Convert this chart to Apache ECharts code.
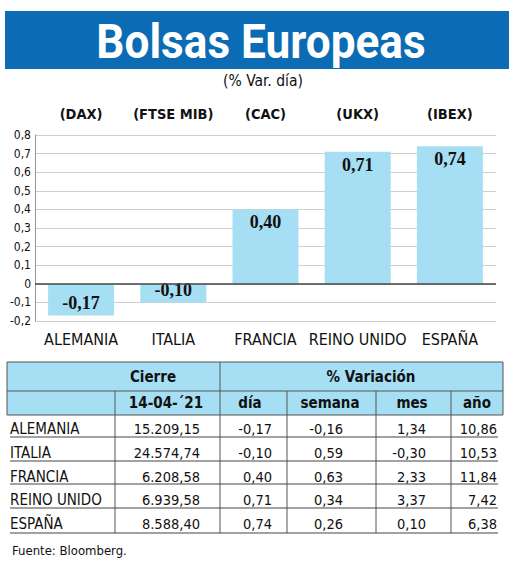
<!DOCTYPE html>
<html>
<head>
<meta charset="utf-8">
<script src="https://cdn.jsdelivr.net/npm/echarts@6/dist/echarts.min.js"></script>
<style>
html,body{margin:0;padding:0;background:#fff;}
#c{width:520px;height:562px;}
</style>
</head>
<body>
<div id="c"></div>
<script>
// ---- data ----
const countries = ['ALEMANIA', 'ITALIA', 'FRANCIA', 'REINO UNIDO', 'ESPAÑA'];
const indices = ['(DAX)', '(FTSE MIB)', '(CAC)', '(UKX)', '(IBEX)'];
const dayChange = [-0.17, -0.10, 0.40, 0.71, 0.74];
const closeValues = ['15.209,15', '24.574,74', '6.208,58', '6.939,58', '8.588,40'];
const weekChange = [-0.16, 0.59, 0.63, 0.34, 0.26];
const monthChange = [1.34, -0.30, 2.33, 3.37, 0.10];
const yearChange = [10.86, 10.53, 11.84, 7.42, 6.38];
const closeDate = '14-04-´21';
const tableHeaders = ['día', 'semana', 'mes', 'año'];
const yMin = -0.2, yMax = 0.8, yStep = 0.1;

// ---- styles ----
const NARROW = '"DejaVu Sans Condensed", Roboto, sans-serif';
const SERIF = '"Liberation Serif", "DejaVu Serif", serif';
const BAR = '#a6def4';
const fmt2 = v => v.toFixed(2).replace('.', ',');

const chart = echarts.init(document.getElementById('c'), null, {renderer: 'svg'});

const g = [];
g.push({type: 'rect', z: 0, shape: {x: 5, y: 11, width: 504, height: 58}, style: {fill: '#0b6cb5'}});
g.push({type: 'text', z: 5, x: 261, y: 41, scaleX: 0.92,
  style: {text: 'Bolsas Europeas', fill: '#fff', font: 'bold 48px Roboto, sans-serif', align: 'center', verticalAlign: 'middle'}});
g.push({type: 'text', x: 263, y: 81,
  style: {text: '(% Var. día)', fill: '#111', font: '15.5px ' + NARROW, align: 'center', verticalAlign: 'middle'}});

// table
const T = {x0: 7, x1: 503, yH0: 362, yH1: 391, yH2: 415};
const vcols = [115, 220, 287, 376, 451];
g.push({type: 'rect', shape: {x: T.x0, y: T.yH0, width: T.x1 - T.x0, height: T.yH2 - T.yH0},
        style: {fill: BAR, stroke: '#555', lineWidth: 1}});
g.push({type: 'line', shape: {x1: T.x0, y1: T.yH1, x2: T.x1, y2: T.yH1}, style: {stroke: '#555', lineWidth: 1}});
g.push({type: 'line', shape: {x1: 220, y1: T.yH0, x2: 220, y2: T.yH1}, style: {stroke: '#555', lineWidth: 1}});
vcols.forEach(x => g.push({type: 'line', shape: {x1: x, y1: T.yH1, x2: x, y2: 533}, style: {stroke: '#555', lineWidth: 1}}));
const hdr = (text, x, y) => g.push({type: 'text', x: x, y: y,
  style: {text: text, fill: '#111', font: 'bold 15px ' + NARROW, align: 'center', verticalAlign: 'middle'}});
hdr('Cierre', 153, 377);
hdr('% Variación', 371, 377);
hdr(closeDate, 166, 403);
[250, 330, 412, 477].forEach((x, i) => hdr(tableHeaders[i], x, 403));
const rowY = [429, 453, 477, 500, 524];
const lineY = [437, 461, 484, 508, 533];
const cell = (text, x, y, align, size) => g.push({type: 'text', x: x, y: y,
  style: {text: text, fill: '#111', font: size + 'px ' + NARROW, align: align, verticalAlign: 'middle'}});
countries.forEach((c, i) => {
  const y = rowY[i];
  cell(c, 10, y, 'left', 15);
  cell(closeValues[i], 200, y, 'right', 14.5);
  cell(fmt2(dayChange[i]), 272, y, 'right', 14.5);
  cell(fmt2(weekChange[i]), 343, y, 'right', 14.5);
  cell(fmt2(monthChange[i]), 426, y, 'right', 14.5);
  cell(fmt2(yearChange[i]), 497, y, 'right', 14.5);
  g.push({type: 'line', shape: {x1: 10, y1: lineY[i], x2: 498, y2: lineY[i]}, style: {stroke: '#444', lineWidth: 1}});
});
g.push({type: 'text', x: 12, y: 550, style: {text: 'Fuente: Bloomberg.', fill: '#111', font: '13px ' + NARROW, align: 'left', verticalAlign: 'middle'}});

chart.setOption({
  animation: false,
  backgroundColor: '#fff',
  graphic: g,
  grid: {left: 35, right: 24, top: 135, bottom: 241, containLabel: false},
  xAxis: [
    {type: 'category', data: countries, position: 'bottom',
     axisLine: {show: false, onZero: false}, axisTick: {show: false},
     axisLabel: {color: '#111', fontFamily: NARROW, fontSize: 16, margin: 10, interval: 0}},
    {type: 'category', data: indices, position: 'top',
     axisLine: {show: false, onZero: false}, axisTick: {show: false},
     axisLabel: {color: '#111', fontFamily: NARROW, fontWeight: 'bold', fontSize: 14.5, margin: 14, interval: 0}}
  ],
  yAxis: {
    type: 'value', min: yMin, max: yMax, interval: yStep,
    axisLine: {show: true, lineStyle: {color: '#999'}},
    axisTick: {show: false},
    splitLine: {lineStyle: {color: '#cfcfcf'}},
    axisLabel: {color: '#111', fontFamily: NARROW, fontSize: 12, margin: 4,
      formatter: v => Math.abs(v) < 1e-9 ? '0' : (Math.round(v * 10) / 10).toFixed(1).replace('.', ',')}
  },
  series: [{
    type: 'bar', xAxisIndex: 0,
    data: dayChange.map(v => ({
      value: v,
      label: {position: v < 0 ? 'insideBottom' : 'insideTop', distance: v < 0 ? 3 : 4}
    })),
    barWidth: 66,
    itemStyle: {color: BAR},
    label: {show: true, color: '#111', fontFamily: SERIF, fontWeight: 'bold', fontSize: 18,
      formatter: p => fmt2(p.value)},
    markLine: {silent: true, symbol: 'none', label: {show: false},
      lineStyle: {color: '#444', width: 1.5, type: 'solid'},
      data: [{yAxis: 0}]}
  }]
});
</script>
</body>
</html>
